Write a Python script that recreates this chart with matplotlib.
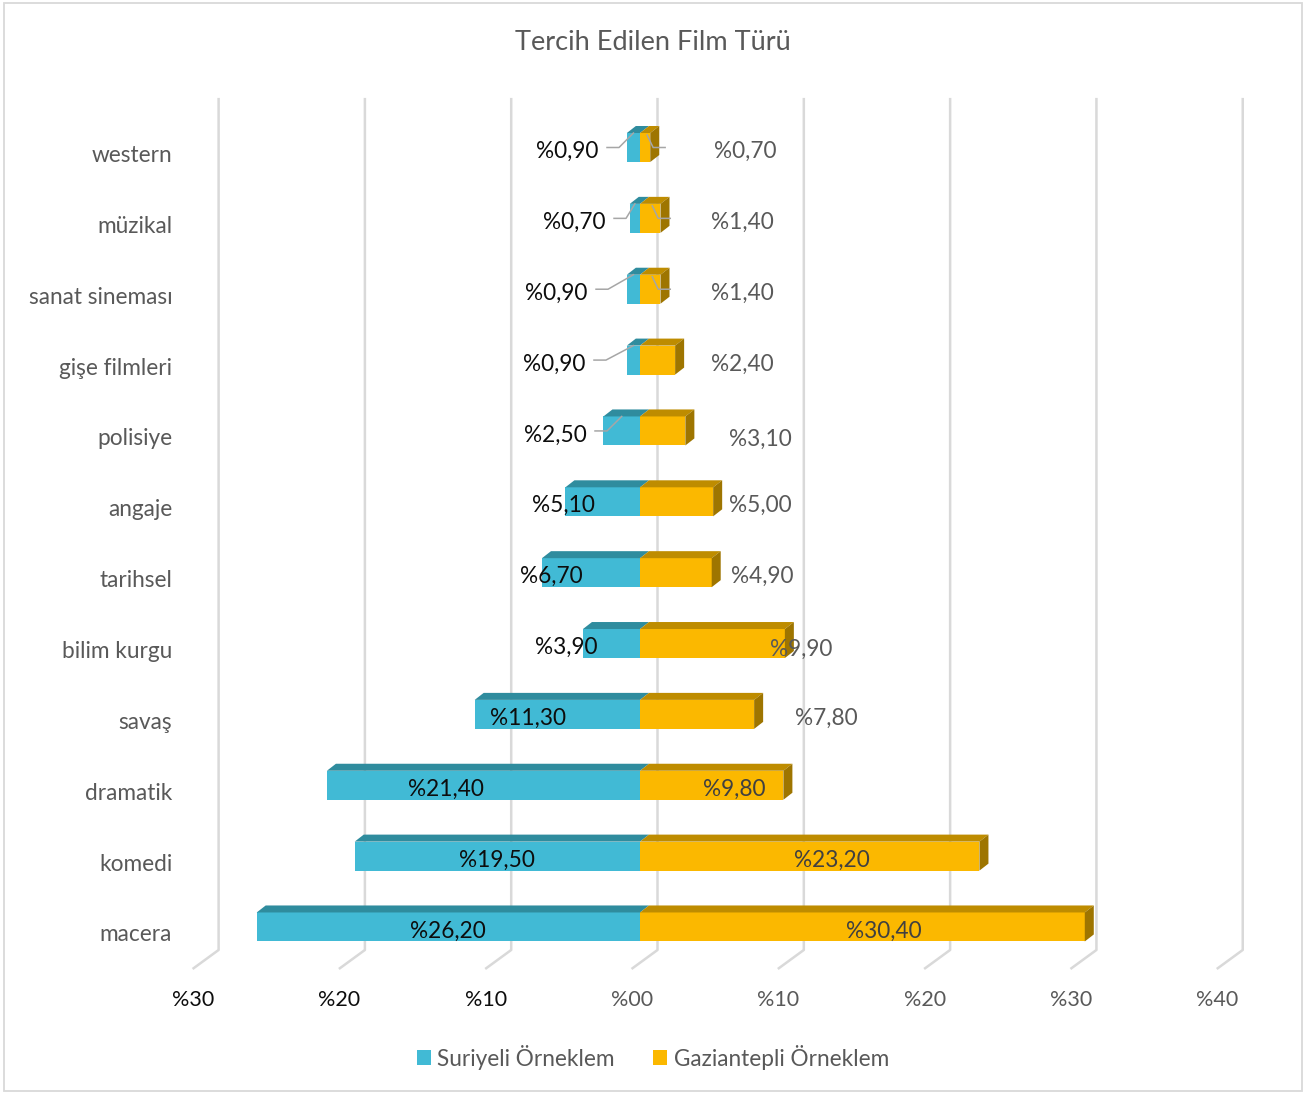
import numpy as np
import matplotlib.pyplot as plt
from matplotlib.patches import Polygon, Rectangle
from matplotlib.transforms import ScaledTranslation

plt.rcParams['font.family'] = ['Lato', 'DejaVu Sans']

# data (bottom to top)
categories = ['macera', 'komedi', 'dramatik', 'savaş', 'bilim kurgu', 'tarihsel',
              'angaje', 'polisiye', 'gişe filmleri', 'sanat sineması', 'müzikal', 'western']
suriyeli = [26.2, 19.5, 21.4, 11.3, 3.9, 6.7, 5.1, 2.5, 0.9, 0.9, 0.7, 0.9]
gaziantep = [30.4, 23.2, 9.8, 7.8, 9.9, 4.9, 5.0, 3.1, 2.4, 1.4, 1.4, 0.7]
ticks = [-30, -20, -10, 0, 10, 20, 30, 40]
tick_labels = ['%30', '%20', '%10', '%00', '%10', '%20', '%30', '%40']
series_names = ['Suriyeli Örneklem', 'Gaziantepli Örneklem']

# label placement (x in % units), as Excel put them
lab_x_left = [-13.12, -9.77, -13.26, -7.66, -5.06, -6.08, -5.26, -5.81, -5.88, -5.74, -4.51, -4.99]
lab_x_right = [16.68, 13.12, 6.43, 12.7, 11.0, 8.34, 8.2, 8.2, 6.97, 6.97, 6.97, 7.18]
lab_dy_right = [2, 2, 2, 2, 4, 2, 2, 6, 2, 2, 2, 2]
leader_left = [7, 8, 9, 10, 11]
leader_right = [9, 10, 11]

blue, blue_top = '#41BAD5', '#2F8C9E'
yel, yel_top, yel_side = '#FBB800', '#BE8C00', '#9E7500'
grid_c = '#D9D9D9'

def fmt(v):
    return '%' + f'{v:.2f}'.replace('.', ',')

W, H = 1306, 1094
fig = plt.figure(figsize=(W / 100, H / 100), dpi=100)
x0, x1 = -33, 42
y0, y1 = -0.5, 11.7
ax_l, ax_b, ax_w, ax_h = 157.2, 962.4, 1097.3, 864.5
ax = fig.add_axes([ax_l / W, 1 - ax_b / H, ax_w / W, ax_h / H])
ax.set_xlim(x0, x1)
ax.set_ylim(y0, y1)
kx = (x1 - x0) / ax_w   # data per px
ky = (y1 - y0) / ax_h

for s in ax.spines.values():
    s.set_visible(False)

# back-wall gridlines with floor diagonals
gdx = 17.5 * kx
for v in ticks:
    xb = v + gdx
    ax.plot([xb, xb, xb - 26 * kx], [y1, -23 * ky, -42 * ky], color=grid_c, lw=1.8,
            clip_on=False, zorder=1, solid_capstyle='butt')

# bars: front faces
y = np.arange(len(categories))
h = 29 * ky
ax.barh(y, [-v for v in suriyeli], height=h, color=blue, zorder=3, label=series_names[0])
ax.barh(y, gaziantep, height=h, color=yel, zorder=3, label=series_names[1])

# 3d top & side faces
ddx, ddy = 9 * kx, 7 * ky
for i in range(len(categories)):
    top = y[i] + h / 2
    ls, rg = -suriyeli[i], gaziantep[i]
    ax.add_patch(Polygon([(ls, top), (0, top), (ddx, top + ddy), (ls + ddx, top + ddy)],
                         closed=True, color=blue_top, zorder=3, lw=0))
    ax.add_patch(Polygon([(0, top), (rg, top), (rg + ddx, top + ddy), (ddx, top + ddy)],
                         closed=True, color=yel_top, zorder=3, lw=0))
    ax.add_patch(Polygon([(rg, top), (rg + ddx, top + ddy), (rg + ddx, top - h + ddy), (rg, top - h)],
                         closed=True, color=yel_side, zorder=3, lw=0))

# data labels
fs = 16.3
for i in range(len(categories)):
    ax.text(lab_x_left[i], y[i] - 4 * ky, fmt(suriyeli[i]), ha='center', va='center',
            fontsize=fs, color='#0D0D0D', zorder=5)
    inside = lab_x_right[i] < gaziantep[i]
    ax.text(lab_x_right[i], y[i] - (lab_dy_right[i] + 2) * ky, fmt(gaziantep[i]), ha='center',
            va='center', fontsize=fs, color='#404040' if inside else '#595959', zorder=5)

# leader lines
lc = '#A6A6A6'
for i in leader_left:
    xs = lab_x_left[i] + 40 * kx
    ax.plot([xs, xs + 12 * kx, -suriyeli[i] / 2], [y[i], y[i], y[i] + h / 2],
            color=lc, lw=1.1, zorder=4)
for i in leader_right:
    xa = gaziantep[i] / 2 + 2 * kx
    ax.plot([xa, xa + 6 * kx, xa + 18 * kx], [y[i] + h / 2 - 2 * ky, y[i], y[i]],
            color=lc, lw=1.1, zorder=4)

# axes ticks
ax.set_yticks(y, categories)
ax.set_xticks(ticks, tick_labels)
ax.tick_params(axis='y', length=0, pad=-10.8, labelsize=16.3, labelcolor='#595959')
ax.tick_params(axis='x', length=0, pad=20, labelsize=15.5)
for lbl in ax.get_yticklabels():
    lbl.set_transform(lbl.get_transform() + ScaledTranslation(0, -6 / 100, fig.dpi_scale_trans))
for j, lbl in enumerate(ax.get_xticklabels()):
    lbl.set_transform(lbl.get_transform() + ScaledTranslation(-8 / 100, 0, fig.dpi_scale_trans))
    lbl.set_color('#0D0D0D' if ticks[j] < 0 else '#595959')

fig.text(0.5, 1 - 43 / H, 'Tercih Edilen Film Türü', ha='center', va='center',
         fontsize=19.5, color='#595959')

fig.legend(loc='center', bbox_to_anchor=(0.5, 1 - 1057 / H), ncol=2, frameon=False,
           fontsize=16.3, labelcolor='#595959', handlelength=0.6, handleheight=0.6,
           handletextpad=0.3, columnspacing=1.7)

fig.patches.append(Rectangle((4 / W, 1 - 1091 / H), 1298 / W, 1088 / H, transform=fig.transFigure,
                             fill=False, edgecolor=grid_c, lw=1.3))

fig.savefig('out.png', dpi=100)
